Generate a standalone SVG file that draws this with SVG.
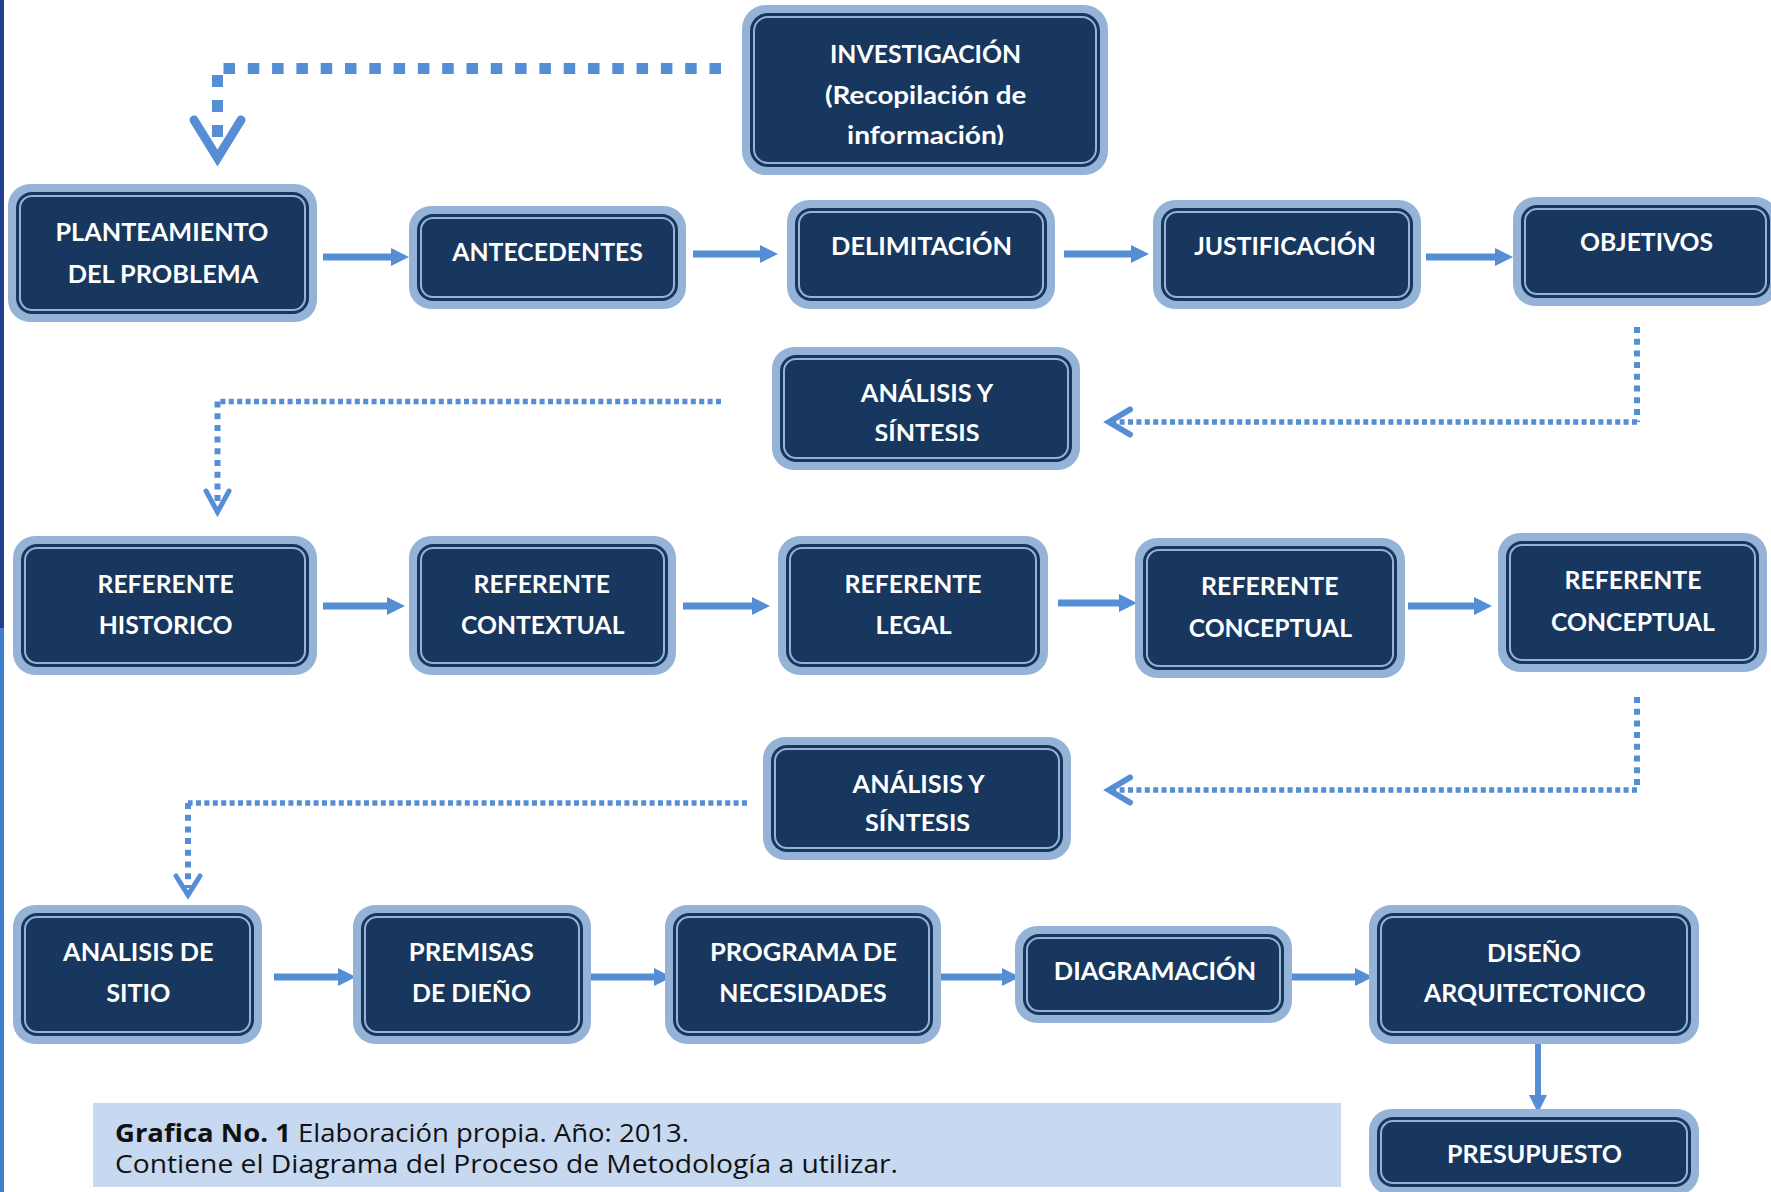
<svg xmlns="http://www.w3.org/2000/svg" width="1771" height="1192" viewBox="0 0 1771 1192">
<style>
.o{fill:#95b3d7}
.i{fill:#17375e}
.l{fill:none;stroke:#95b3d7;stroke-width:2}
.t{font-family:Lato,"Open Sans","Liberation Sans",sans-serif;font-weight:700;font-size:25.5px;fill:#ffffff;text-anchor:middle}
.a{stroke:#558ed5;stroke-width:7;fill:none}
.av{stroke:#558ed5;stroke-width:6;fill:none}
.d1{stroke:#558ed5;stroke-width:11;stroke-dasharray:11.5 12.8;fill:none}
.d1v{stroke:#558ed5;stroke-width:11;stroke-dasharray:12 13;fill:none}
.d2{stroke:#558ed5;stroke-width:5.5;stroke-dasharray:5 3.4;fill:none}
.d2v{stroke:#558ed5;stroke-width:6;stroke-dasharray:6 5.7;fill:none}
.h{stroke:#558ed5;fill:none;stroke-linecap:round;stroke-linejoin:miter;stroke-miterlimit:10}
.cap{font-family:"Open Sans","Noto Sans",sans-serif;font-size:25px;fill:#111111}
</style>
<defs>
<marker id="ah" viewBox="0 -9 18 18" refX="0" refY="0" markerWidth="18" markerHeight="18" markerUnits="userSpaceOnUse" orient="auto">
<path d="M0,-9 L18,0 L0,9 z" fill="#558ed5"/>
</marker>
<clipPath id="clipInv"><rect x="740" y="0" width="380" height="145"/></clipPath>
<clipPath id="clipAn1"><rect x="770" y="340" width="320" height="101"/></clipPath>
<clipPath id="clipAn2"><rect x="760" y="730" width="320" height="101"/></clipPath>
</defs>
<rect width="1771" height="1192" fill="#ffffff"/>
<rect x="0" y="0" width="4" height="628" fill="#203f8e"/>
<rect x="0" y="628" width="4" height="564" fill="#3f7fcb"/>

<g id="connectors">
<path class="d1" d="M721,68.5 H223"/>
<path class="d1v" d="M217.5,75 V137"/>
<polyline class="h" stroke-width="9" points="194,120 217.5,158 241,120"/>

<path class="a" d="M323,257 H391" marker-end="url(#ah)"/>
<path class="a" d="M693,254 H760" marker-end="url(#ah)"/>
<path class="a" d="M1064,254 H1131" marker-end="url(#ah)"/>
<path class="a" d="M1426,257 H1495" marker-end="url(#ah)"/>

<path class="d2v" d="M1637,327 V422"/>
<path class="d2" d="M1637,422 H1112"/>
<polyline class="h" stroke-width="6" points="1130,409.5 1109,422 1130,434.5"/>

<path class="d2" d="M721,401.5 H217.5"/>
<path class="d2v" d="M217.5,401.5 V505"/>
<polyline class="h" stroke-width="5" points="206,491 217.5,512 229,491"/>

<path class="a" d="M323,606 H387" marker-end="url(#ah)"/>
<path class="a" d="M683,606 H752" marker-end="url(#ah)"/>
<path class="a" d="M1058,603 H1119" marker-end="url(#ah)"/>
<path class="a" d="M1408,606 H1474" marker-end="url(#ah)"/>

<path class="d2v" d="M1637,697 V790"/>
<path class="d2" d="M1637,790 H1112"/>
<polyline class="h" stroke-width="6" points="1130,777.5 1109,790 1130,802.5"/>

<path class="d2" d="M747,803 H188"/>
<path class="d2v" d="M188,803 V888"/>
<polyline class="h" stroke-width="5" points="176,876 188,895 200,876"/>

<path class="a" d="M274,977 H338" marker-end="url(#ah)"/>
<path class="a" d="M591,977 H654" marker-end="url(#ah)"/>
<path class="a" d="M941,977 H1002" marker-end="url(#ah)"/>
<path class="a" d="M1292,977 H1355" marker-end="url(#ah)"/>
<path class="av" d="M1538,1044 V1095" marker-end="url(#ah)"/>
</g>

<g id="n-investigacion">
<rect class="o" x="742" y="5" width="366" height="170" rx="24"/>
<rect class="i" x="750" y="13" width="350" height="154" rx="18"/>
<rect class="l" x="754" y="17" width="342" height="146" rx="14"/>
<text class="t" x="925.5" y="63" textLength="191" lengthAdjust="spacingAndGlyphs">INVESTIGACIÓN</text>
<text class="t" x="925.7" y="104" textLength="201.5" lengthAdjust="spacingAndGlyphs">(Recopilación de</text>
<g clip-path="url(#clipInv)"><text class="t" x="925.6" y="144" textLength="157" lengthAdjust="spacingAndGlyphs">información)</text></g>
</g>

<g id="n-planteamiento">
<rect class="o" x="8" y="184" width="309" height="138" rx="22"/>
<rect class="i" x="16" y="192" width="293" height="122" rx="16"/>
<rect class="l" x="20" y="196" width="285" height="114" rx="12"/>
<text class="t" x="162" y="241" textLength="213" lengthAdjust="spacingAndGlyphs">PLANTEAMIENTO</text>
<text class="t" x="163" y="283" textLength="190.6" lengthAdjust="spacingAndGlyphs">DEL PROBLEMA</text>
</g>

<g id="n-antecedentes">
<rect class="o" x="409" y="206" width="277" height="103" rx="22"/>
<rect class="i" x="417" y="214" width="261" height="87" rx="16"/>
<rect class="l" x="421" y="218" width="253" height="79" rx="12"/>
<text class="t" x="547.6" y="261" textLength="190.6" lengthAdjust="spacingAndGlyphs">ANTECEDENTES</text>
</g>

<g id="n-delimitacion">
<rect class="o" x="787" y="200" width="268" height="109" rx="22"/>
<rect class="i" x="795" y="208" width="252" height="93" rx="16"/>
<rect class="l" x="799" y="212" width="244" height="85" rx="12"/>
<text class="t" x="921.6" y="255" textLength="181" lengthAdjust="spacingAndGlyphs">DELIMITACIÓN</text>
</g>

<g id="n-justificacion">
<rect class="o" x="1153" y="200" width="268" height="109" rx="22"/>
<rect class="i" x="1161" y="208" width="252" height="93" rx="16"/>
<rect class="l" x="1165" y="212" width="244" height="85" rx="12"/>
<text class="t" x="1285" y="255" textLength="181.7" lengthAdjust="spacingAndGlyphs">JUSTIFICACIÓN</text>
</g>

<g id="n-objetivos">
<rect class="o" x="1513" y="197" width="265" height="109" rx="22"/>
<rect class="i" x="1521" y="205" width="249" height="93" rx="16"/>
<rect class="l" x="1525" y="209" width="241" height="85" rx="12"/>
<text class="t" x="1646.5" y="250.7" textLength="133" lengthAdjust="spacingAndGlyphs">OBJETIVOS</text>
</g>

<g id="n-analisis1">
<rect class="o" x="772" y="347" width="308" height="123" rx="22"/>
<rect class="i" x="780" y="355" width="292" height="107" rx="16"/>
<rect class="l" x="784" y="359" width="284" height="99" rx="12"/>
<text class="t" x="927" y="402.3" textLength="132.5" lengthAdjust="spacingAndGlyphs">ANÁLISIS Y</text>
<g clip-path="url(#clipAn1)"><text class="t" x="927" y="442" textLength="105" lengthAdjust="spacingAndGlyphs">SÍNTESIS</text></g>
</g>

<g id="n-ref-historico">
<rect class="o" x="13" y="536" width="304" height="139" rx="22"/>
<rect class="i" x="21" y="544" width="288" height="123" rx="16"/>
<rect class="l" x="25" y="548" width="280" height="115" rx="12"/>
<text class="t" x="165.6" y="593.3" textLength="136" lengthAdjust="spacingAndGlyphs">REFERENTE</text>
<text class="t" x="165.6" y="634.3" textLength="133.7" lengthAdjust="spacingAndGlyphs">HISTORICO</text>
</g>

<g id="n-ref-contextual">
<rect class="o" x="409" y="536" width="267" height="139" rx="22"/>
<rect class="i" x="417" y="544" width="251" height="123" rx="16"/>
<rect class="l" x="421" y="548" width="243" height="115" rx="12"/>
<text class="t" x="541.8" y="593.3" textLength="136.6" lengthAdjust="spacingAndGlyphs">REFERENTE</text>
<text class="t" x="542.7" y="634.3" textLength="163.6" lengthAdjust="spacingAndGlyphs">CONTEXTUAL</text>
</g>

<g id="n-ref-legal">
<rect class="o" x="778" y="536" width="270" height="139" rx="22"/>
<rect class="i" x="786" y="544" width="254" height="123" rx="16"/>
<rect class="l" x="790" y="548" width="246" height="115" rx="12"/>
<text class="t" x="913" y="593.3" textLength="136.8" lengthAdjust="spacingAndGlyphs">REFERENTE</text>
<text class="t" x="913.6" y="634.3" textLength="76" lengthAdjust="spacingAndGlyphs">LEGAL</text>
</g>

<g id="n-ref-conceptual-1">
<rect class="o" x="1135" y="538" width="270" height="140" rx="22"/>
<rect class="i" x="1143" y="546" width="254" height="124" rx="16"/>
<rect class="l" x="1147" y="550" width="246" height="116" rx="12"/>
<text class="t" x="1269.8" y="595" textLength="137.4" lengthAdjust="spacingAndGlyphs">REFERENTE</text>
<text class="t" x="1270.4" y="636.7" textLength="163.4" lengthAdjust="spacingAndGlyphs">CONCEPTUAL</text>
</g>

<g id="n-ref-conceptual-2">
<rect class="o" x="1498" y="533" width="269" height="139" rx="22"/>
<rect class="i" x="1506" y="541" width="253" height="123" rx="16"/>
<rect class="l" x="1510" y="545" width="245" height="115" rx="12"/>
<text class="t" x="1633" y="589.3" textLength="137" lengthAdjust="spacingAndGlyphs">REFERENTE</text>
<text class="t" x="1632.9" y="630.7" textLength="164" lengthAdjust="spacingAndGlyphs">CONCEPTUAL</text>
</g>

<g id="n-analisis2">
<rect class="o" x="763" y="737" width="308" height="123" rx="22"/>
<rect class="i" x="771" y="745" width="292" height="107" rx="16"/>
<rect class="l" x="775" y="749" width="284" height="99" rx="12"/>
<text class="t" x="918.6" y="793.3" textLength="132" lengthAdjust="spacingAndGlyphs">ANÁLISIS Y</text>
<g clip-path="url(#clipAn2)"><text class="t" x="917.6" y="831.7" textLength="105" lengthAdjust="spacingAndGlyphs">SÍNTESIS</text></g>
</g>

<g id="n-analisis-sitio">
<rect class="o" x="13" y="905" width="249" height="139" rx="22"/>
<rect class="i" x="21" y="913" width="233" height="123" rx="16"/>
<rect class="l" x="25" y="917" width="225" height="115" rx="12"/>
<text class="t" x="138.3" y="961" textLength="150.4" lengthAdjust="spacingAndGlyphs">ANALISIS DE</text>
<text class="t" x="138.3" y="1001.7" textLength="64.3" lengthAdjust="spacingAndGlyphs">SITIO</text>
</g>

<g id="n-premisas">
<rect class="o" x="353" y="905" width="238" height="139" rx="22"/>
<rect class="i" x="361" y="913" width="222" height="123" rx="16"/>
<rect class="l" x="365" y="917" width="214" height="115" rx="12"/>
<text class="t" x="471.3" y="961" textLength="125" lengthAdjust="spacingAndGlyphs">PREMISAS</text>
<text class="t" x="471.6" y="1001.7" textLength="119" lengthAdjust="spacingAndGlyphs">DE DIEÑO</text>
</g>

<g id="n-programa">
<rect class="o" x="665" y="905" width="276" height="139" rx="22"/>
<rect class="i" x="673" y="913" width="260" height="123" rx="16"/>
<rect class="l" x="677" y="917" width="252" height="115" rx="12"/>
<text class="t" x="803.5" y="961" textLength="187" lengthAdjust="spacingAndGlyphs">PROGRAMA DE</text>
<text class="t" x="803" y="1001.7" textLength="167.6" lengthAdjust="spacingAndGlyphs">NECESIDADES</text>
</g>

<g id="n-diagramacion">
<rect class="o" x="1015" y="926" width="277" height="97" rx="22"/>
<rect class="i" x="1023" y="934" width="261" height="81" rx="16"/>
<rect class="l" x="1027" y="938" width="253" height="73" rx="12"/>
<text class="t" x="1155" y="980" textLength="202.4" lengthAdjust="spacingAndGlyphs">DIAGRAMACIÓN</text>
</g>

<g id="n-diseno">
<rect class="o" x="1369" y="905" width="330" height="139" rx="22"/>
<rect class="i" x="1377" y="913" width="314" height="123" rx="16"/>
<rect class="l" x="1381" y="917" width="306" height="115" rx="12"/>
<text class="t" x="1534" y="961.7" textLength="94" lengthAdjust="spacingAndGlyphs">DISEÑO</text>
<text class="t" x="1534.8" y="1001.7" textLength="221.6" lengthAdjust="spacingAndGlyphs">ARQUITECTONICO</text>
</g>

<g id="n-presupuesto">
<rect class="o" x="1369" y="1109" width="330" height="86" rx="22"/>
<rect class="i" x="1377" y="1117" width="314" height="70" rx="16"/>
<rect class="l" x="1381" y="1121" width="306" height="62" rx="12"/>
<text class="t" x="1534.5" y="1163.3" textLength="175" lengthAdjust="spacingAndGlyphs">PRESUPUESTO</text>
</g>

<g id="caption">
<rect x="93" y="1103" width="1248" height="84" fill="#c6d9f1"/>
<text class="cap" x="115" y="1142" textLength="574" lengthAdjust="spacingAndGlyphs"><tspan font-weight="700">Grafica No. 1</tspan> Elaboración propia. Año: 2013.</text>
<text class="cap" x="115" y="1173" textLength="783" lengthAdjust="spacingAndGlyphs">Contiene el Diagrama del Proceso de Metodología a utilizar.</text>
</g>
</svg>
